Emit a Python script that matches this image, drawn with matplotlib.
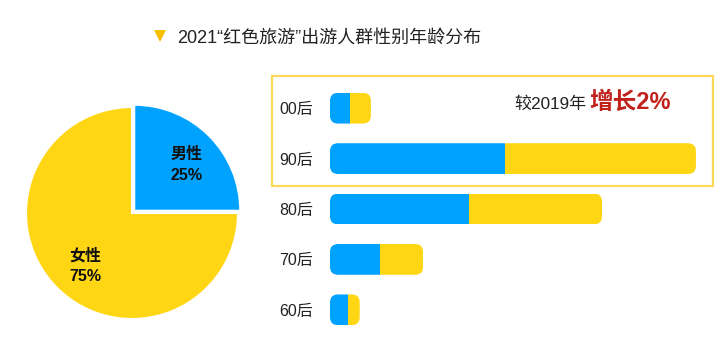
import matplotlib
matplotlib.use("Agg")
import matplotlib.pyplot as plt
from matplotlib.patches import FancyBboxPatch, Rectangle

plt.rcParams['font.family'] = ['Liberation Sans', 'Noto Sans CJK SC', 'DejaVu Sans']

# ---- data ----
title = "2021“红色旅游”出游人群性别年龄分布"
gender_labels = ["男性", "女性"]
gender_values = [25, 75]
age_groups = ["00后", "90后", "80后", "70后", "60后"]
blue_part = [2.5, 21.8, 17.3, 6.2, 2.2]
yellow_part = [2.6, 23.8, 16.6, 5.4, 1.5]
note_prefix = "较2019年"
note_highlight = "增长2%"

BLUE = "#00a2ff"
YELLOW = "#ffd614"
W, H = 723, 353

fig = plt.figure(figsize=(W / 100, H / 100), dpi=100)

def px_axes(left, top, width, height):
    return fig.add_axes([left / W, (H - top - height) / H, width / W, height / H])

# overlay for title / box
ov = px_axes(0, 0, W, H)
ov.set_xlim(0, W)
ov.set_ylim(H, 0)
ov.axis("off")
ov.plot([160], [36], marker="v", color="#f5c000", markersize=8, markeredgewidth=0)
ov.text(177, 38, title, fontsize=13, color="#222222", va="center", ha="left")
ov.add_patch(Rectangle((272, 76), 441, 110, fill=False, edgecolor="#fad95a", lw=1.6))
ov.text(514, 104, note_prefix, fontsize=12.3, color="#222222", va="center", ha="left")
ov.text(589, 102, note_highlight, fontsize=17, color="#c0211b", va="center",
        ha="left", fontweight="bold")

# pie
pie_ax = px_axes(17, 98, 230, 230)
explode = [0.03, 0]
wedges, texts = pie_ax.pie(
    gender_values,
    labels=[f"{l}\n{v}%" for l, v in zip(gender_labels, gender_values)],
    colors=[BLUE, YELLOW], startangle=90, counterclock=False,
    explode=explode, labeldistance=0.66, radius=1,
    wedgeprops=dict(edgecolor="white", linewidth=1.5),
    textprops=dict(fontsize=11.5, fontweight="bold", color="#111111"),
)
for t in texts:
    t.set_ha("center")
    t.set_va("center")
    t.set_linespacing(1.5)
    x, y = t.get_position()
    t.set_position((x + 0.03, y - 0.035))
lim = 115 / 106
pie_ax.set_xlim(-lim, lim)
pie_ax.set_ylim(-lim, lim)
pie_ax.set_aspect("equal")

# bars
bar_ax = px_axes(330, 83, 380, 252)
px_per_x = 8.025
xmax = 380 / px_per_x
bar_ax.set_xlim(0, xmax)
bar_ax.set_ylim(len(age_groups) - 0.5, -0.5)
bar_h = 0.61
ys = list(range(len(age_groups)))
b1 = bar_ax.barh(ys, blue_part, height=bar_h, color=BLUE, linewidth=0)
b2 = bar_ax.barh(ys, yellow_part, left=blue_part, height=bar_h, color=YELLOW, linewidth=0)
px_per_y = 252 / len(age_groups)
aspect = (1 / px_per_y) / (1 / px_per_x)
for i, y in enumerate(ys):
    total = blue_part[i] + yellow_part[i]
    clip = FancyBboxPatch((0, y - bar_h / 2), total, bar_h,
                          boxstyle="round,pad=0,rounding_size=1.0",
                          mutation_aspect=aspect, transform=bar_ax.transData)
    b1[i].set_clip_path(clip)
    b2[i].set_clip_path(clip)
bar_ax.set_yticks(ys)
bar_ax.set_yticklabels(age_groups, fontsize=11.5, color="#222222")
bar_ax.tick_params(axis="y", length=0, pad=12)
bar_ax.set_xticks([])
for s in bar_ax.spines.values():
    s.set_visible(False)
bar_ax.patch.set_alpha(0)

fig.savefig("out.png", dpi=100)
